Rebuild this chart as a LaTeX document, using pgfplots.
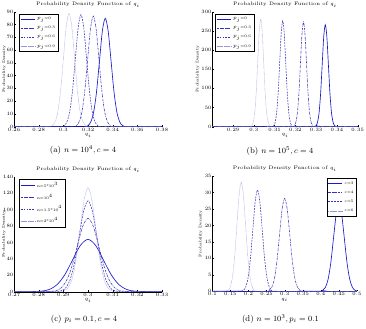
\documentclass[border=0pt]{standalone}
\usepackage{pgfplots}
\pgfplotsset{compat=1.18}
\definecolor{c1}{RGB}{25,25,205}
\definecolor{c2}{RGB}{55,50,185}
\definecolor{c4}{RGB}{150,150,215}
\begin{document}
\begin{tikzpicture}
\useasboundingbox (0bp,0bp) rectangle (366bp,329bp);
\pgfplotsset{
 pdf/.style={scale only axis, axis x line*=bottom, axis y line*=left,
  axis line style={-, line width=0.4bp, black},
  tick align=inside, major tick length=1.5bp, tick style={line width=0.3bp, black},
  ticklabel style={font=\fontsize{3.8}{4.3}\selectfont, inner sep=0.5pt},
  xticklabel style={yshift=-0.6bp},
  label style={font=\fontsize{4}{4.5}\selectfont},
  xlabel style={inner sep=0.5pt, yshift=-1bp},
  title style={font=\fontsize{5}{6}\selectfont, inner sep=1pt, yshift=-2.5bp},
  xlabel={$q_i$}, ylabel={Probability Density},
  title={Probability Density Function of $q_i$},
  legend style={font=\fontsize{3.8}{4.5}\selectfont, draw=black, inner sep=1pt,
   row sep=1.1bp, cells={anchor=west}},
  legend image code/.code={\draw[##1] (0bp,0bp) -- (14bp,0bp);},
  ymin=0, scaled ticks=false,
  xticklabel style={/pgf/number format/fixed, /pgf/number format/precision=3},
  yticklabel style={/pgf/number format/fixed},
 },
 yl/.style={ylabel style={at={(axis description cs:#1,0.5)}, anchor=center, inner sep=0pt}},
 s1/.style={color=c1, draw=c1, solid, line width=0.65bp, smooth},
 s2/.style={color=c2, draw=c2, dash pattern=on 2.4bp off 0.9bp on 0.5bp off 0.9bp, line width=0.55bp, smooth},
 s3/.style={color=c2, draw=c2, dash pattern=on 1.8bp off 1.1bp, line width=0.55bp, smooth},
 s4/.style={color=c4, draw=c4, dash pattern=on 0.45bp off 0.7bp, line width=0.5bp, smooth},
}
% (a)
\begin{axis}[pdf, yl=-0.066, at={(14bp,202.3bp)}, anchor=south west, width=148bp, height=115bp,
  xmin=0.26, xmax=0.38, ymax=90, xtick={0.26,0.28,0.3,0.32,0.34,0.36,0.38},
  ytick={0,10,20,30,40,50,60,70,80,90},
  legend style={at={(0.035,0.98)}, anchor=north west}]
\addplot[s1] coordinates {(0.26,0) (0.3152,0.03) (0.3199,0.94) (0.32225,3.73) (0.3246,11.48) (0.32695,27.53) (0.3293,51.43) (0.33165,74.84) (0.334,84.8) (0.33635,74.84) (0.3387,51.43) (0.34105,27.53) (0.3434,11.48) (0.34575,3.73) (0.3481,0.94) (0.3528,0.03) (0.38,0)};
\addplot[s2] coordinates {(0.26,0) (0.3059,0.03) (0.3105,0.96) (0.3128,3.81) (0.3151,11.72) (0.3174,28.11) (0.3197,52.53) (0.3220,76.42) (0.3243,86.6) (0.3266,76.42) (0.3289,52.53) (0.3312,28.11) (0.3335,11.72) (0.3358,3.81) (0.3381,0.96) (0.3427,0.03) (0.38,0)};
\addplot[s3] coordinates {(0.26,0) (0.2961,0.03) (0.30065,0.97) (0.302925,3.85) (0.3052,11.87) (0.307475,28.47) (0.30975,53.19) (0.312025,77.40) (0.3143,87.7) (0.316575,77.40) (0.31885,53.19) (0.321125,28.47) (0.3234,11.87) (0.325675,3.85) (0.32795,0.97) (0.3325,0.03) (0.38,0)};
\addplot[s4] coordinates {(0.26,0) (0.2866,0.03) (0.2911,0.99) (0.29335,3.90) (0.2956,12.00) (0.29785,28.80) (0.3001,53.80) (0.30235,78.28) (0.3046,88.7) (0.30685,78.28) (0.3091,53.80) (0.31135,28.80) (0.3136,12.00) (0.31585,3.90) (0.3181,0.99) (0.3226,0.03) (0.38,0)};
\legend{$p_j$=0,$p_j$=0.3,$p_j$=0.6,$p_j$=0.9}
\end{axis}
% (b)
\begin{axis}[pdf, yl=-0.1, at={(212.3bp,202.3bp)}, anchor=south west, width=145.4bp, height=115bp,
  xmin=0.28, xmax=0.35, ymax=300, xtick={0.29,0.3,0.31,0.32,0.33,0.34,0.35},
  ytick={0,50,100,150,200,250,300},
  legend style={at={(0.02,0.98)}, anchor=north west}]
\addplot[s1] coordinates {(0.28,0) (0.3284,0.09) (0.3299,2.96) (0.33065,11.7) (0.3314,36.0) (0.33215,86.4) (0.3329,161.3) (0.33365,234.7) (0.3344,266) (0.33515,234.7) (0.3359,161.3) (0.33665,86.4) (0.3374,36.0) (0.33815,11.7) (0.3389,2.96) (0.3404,0.09) (0.35,0)};
\addplot[s2] coordinates {(0.28,0) (0.31806,0.09) (0.31952,3.03) (0.32025,12.0) (0.32098,36.9) (0.32171,88.6) (0.32244,165.6) (0.32317,240.9) (0.3239,273) (0.32463,240.9) (0.32536,165.6) (0.32609,88.6) (0.32682,36.9) (0.32755,12.0) (0.32828,3.03) (0.32974,0.09) (0.35,0)};
\addplot[s3] coordinates {(0.28,0) (0.3081,0.09) (0.30955,3.07) (0.310275,12.1) (0.311,37.4) (0.311725,89.6) (0.31245,167.4) (0.313175,243.6) (0.3139,276) (0.314625,243.6) (0.31535,167.4) (0.316075,89.6) (0.3168,37.4) (0.317525,12.1) (0.31825,3.07) (0.3197,0.09) (0.35,0)};
\addplot[s4] coordinates {(0.28,0) (0.29762,0.10) (0.29904,3.12) (0.29975,12.3) (0.30046,38.0) (0.30117,91.2) (0.30188,170.4) (0.30259,248.0) (0.3033,281) (0.30401,248.0) (0.30472,170.4) (0.30543,91.2) (0.30614,38.0) (0.30685,12.3) (0.30756,3.12) (0.30898,0.10) (0.35,0)};
\legend{$p_j$=0,$p_j$=0.3,$p_j$=0.6,$p_j$=0.9}
\end{axis}
% (c)
\begin{axis}[pdf, yl=-0.068, at={(14bp,37.3bp)}, anchor=south west, width=148bp, height=115bp,
  xmin=0.27, xmax=0.33, ymax=140, xtick={0.27,0.28,0.29,0.3,0.31,0.32,0.33},
  ytick={0,20,40,60,80,100,120,140},
  legend style={at={(0.035,0.98)}, anchor=north west}]
\addplot[s1] coordinates {(0.27,0) (0.27496,0.02) (0.28122,0.71) (0.28435,2.80) (0.28748,8.62) (0.29061,20.7) (0.29374,38.6) (0.29687,56.2) (0.3,63.7) (0.30313,56.2) (0.30626,38.6) (0.30939,20.7) (0.31252,8.62) (0.31565,2.80) (0.31878,0.71) (0.32504,0.02) (0.33,0)};
\addplot[s2] coordinates {(0.27,0) (0.28212,0.03) (0.28659,0.99) (0.288825,3.92) (0.29106,12.09) (0.293295,29.0) (0.29553,54.2) (0.297765,78.8) (0.3,89.3) (0.302235,78.8) (0.30447,54.2) (0.306705,29.0) (0.30894,12.09) (0.311175,3.92) (0.31341,0.99) (0.31788,0.03) (0.33,0)};
\addplot[s3] coordinates {(0.27,0) (0.2856,0.04) (0.2892,1.23) (0.291,4.87) (0.2928,15.0) (0.2946,36.0) (0.2964,67.2) (0.2982,97.8) (0.3,110.8) (0.3018,97.8) (0.3036,67.2) (0.3054,36.0) (0.3072,15.0) (0.309,4.87) (0.3108,1.23) (0.3144,0.04) (0.33,0)};
\addplot[s4] coordinates {(0.27,0) (0.2874,0.04) (0.29055,1.41) (0.292125,5.56) (0.2937,17.1) (0.295275,41.1) (0.29685,76.8) (0.298425,111.7) (0.3,126.6) (0.301575,111.7) (0.30315,76.8) (0.304725,41.1) (0.3063,17.1) (0.307875,5.56) (0.30945,1.41) (0.3126,0.04) (0.33,0)};
\legend{n=5*10$^3$,n=10$^4$,n=1.5*10$^4$,n=2*10$^4$}
\end{axis}
% (d)
\begin{axis}[pdf, yl=-0.08, at={(212.3bp,37.7bp)}, anchor=south west, width=144.7bp, height=115.3bp,
  xmin=0.1, xmax=0.5, ymax=35, xtick={0.1,0.15,0.2,0.25,0.3,0.35,0.4,0.45,0.5},
  ytick={0,5,10,15,20,25,30,35},
  legend style={at={(0.998,0.98)}, anchor=north east}]
\addplot[s1] coordinates {(0.1,0) (0.39,0.01) (0.405,0.29) (0.4125,1.16) (0.42,3.59) (0.4275,8.60) (0.435,16.07) (0.4425,23.39) (0.45,26.5) (0.4575,23.39) (0.465,16.07) (0.4725,8.60) (0.48,3.59) (0.4875,1.16) (0.495,0.29) (0.5,0.10)};
\addplot[s2] coordinates {(0.1,0) (0.2432,0.01) (0.2574,0.31) (0.2645,1.24) (0.2716,3.82) (0.2787,9.16) (0.2858,17.10) (0.2929,24.89) (0.3,28.2) (0.3071,24.89) (0.3142,17.10) (0.3213,9.16) (0.3284,3.82) (0.3355,1.24) (0.3426,0.31) (0.3568,0.01) (0.5,0)};
\addplot[s3] coordinates {(0.1,0) (0.173,0.01) (0.186,0.34) (0.1925,1.35) (0.199,4.16) (0.2055,9.98) (0.212,18.65) (0.2185,27.14) (0.225,30.75) (0.2315,27.14) (0.238,18.65) (0.2445,9.98) (0.251,4.16) (0.2575,1.35) (0.264,0.34) (0.277,0.01) (0.5,0)};
\addplot[s4] coordinates {(0.1,0) (0.132,0.01) (0.144,0.37) (0.15,1.45) (0.156,4.48) (0.162,10.75) (0.168,20.08) (0.174,29.21) (0.18,33.1) (0.186,29.21) (0.192,20.08) (0.198,10.75) (0.204,4.48) (0.21,1.45) (0.216,0.37) (0.228,0.01) (0.5,0)};
\legend{c=3,c=4,c=5,c=6}
\end{axis}
\node[font=\fontsize{8.5}{10}\selectfont] at (83bp,179bp) {(a) $n=10^4, c=4$};
\node[font=\fontsize{8.5}{10}\selectfont] at (280bp,178bp) {(b) $n=10^5, c=4$};
\node[font=\fontsize{8.5}{10}\selectfont] at (84bp,10bp) {(c) $p_i=0.1, c=4$};
\node[font=\fontsize{8.5}{10}\selectfont] at (280.5bp,10bp) {(d) $n=10^3, p_i=0.1$};
\end{tikzpicture}
\end{document}
